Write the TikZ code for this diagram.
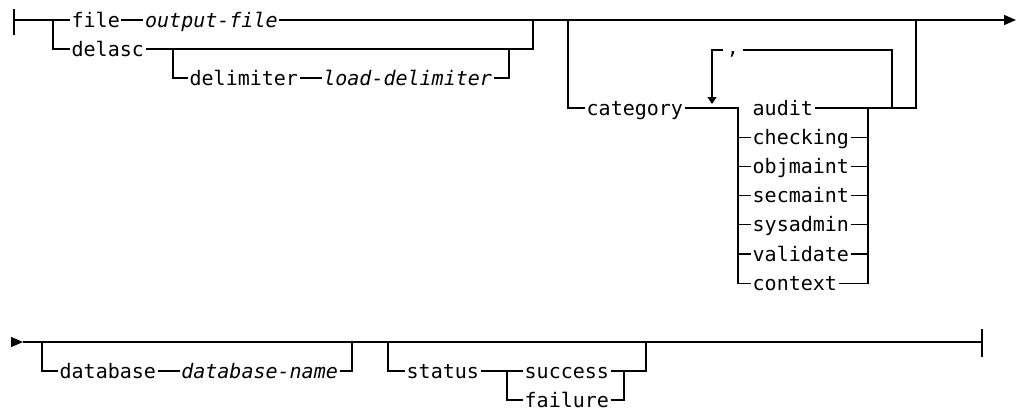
\documentclass[tikz,border=0pt]{standalone}
\usepackage{fontspec}
\newfontfamily\railfont{DejaVu Sans Mono}
\usepackage{tikz}
\usetikzlibrary{arrows.meta,positioning}

\begin{document}
\begin{tikzpicture}[x=0.75pt,y=-0.75pt,line width=1pt,
  kw/.style={font=\railfont\fontsize{15}{18}\selectfont,inner xsep=0.75pt,inner ysep=0pt,
             text height=13.5pt,text depth=3pt,anchor=west},
  var/.style={kw,font=\railfont\itshape\fontsize{15}{18}\selectfont},
  tip/.style={-{Triangle[length=9pt,width=7.5pt]}}]
\useasboundingbox (0,0) rectangle (1020,411);
%\draw[help lines] (0,0) grid[step=50] (1020,411);

% first line
\coordinate (START) at (14,20);
\coordinate (J1) at (53,20);
\coordinate (J2) at (533,20);
\coordinate (J3) at (568,20);
\coordinate (J4) at (916,20);
\coordinate (END1) at (1016,20);
\coordinate (J5) at (173,49);
\coordinate (J6) at (509,49);
\coordinate (J7) at (738,108);
\coordinate (J8) at (868,108);
\coordinate (LOOPL) at (712,104);
\coordinate (LOOPR) at (892,108);

\node[kw] (FILE) at (70,20) {file};
\node[var] (OUTFILE) [right=16.5pt of FILE] {output-file};
\node[kw] (DELASC) at (70,49) {delasc};
\node[kw] (DELIM) at (188,78) {delimiter};
\node[var] (LOADDELIM) [right=16.5pt of DELIM] {load-delimiter};
\node[kw] (CATEGORY) at (585,108) {category};
\node[kw,anchor=center,inner xsep=2.5pt,text height=10.5pt,text depth=3.75pt] (COMMA) at (733,50) {,};
\foreach \w [count=\i from 0] in {audit,checking,objmaint,secmaint,sysadmin,validate,context}
  \node[kw] (C\i) at (751,108+29.2*\i) {\w};

\draw (START) ++(0,-11) -- ++(0,26);
\draw (START) -- (J1) -- (FILE.west);
\draw (J1) |- (DELASC.west);
\draw (FILE) -- (OUTFILE);
\draw[tip] (OUTFILE.east) -- (END1);
\draw (DELASC.east) -| (J2);
\draw (J5) |- (DELIM.west);
\draw (DELIM) -- (LOADDELIM);
\draw (LOADDELIM.east) -| (J6);
\draw (J3) |- (CATEGORY.west);
\draw (CATEGORY.east) -- (J7) |- (C6.west);
\draw (C0.east) -| (J4);
\draw (C6.east) -| (J8);
\foreach \i in {1,...,5} {
  \draw (C\i.west -| J7) -- (C\i.west);
  \draw (C\i.east) -- (C\i.east -| J8);
}
\draw (LOOPR) |- (COMMA.east);
\draw[-{Triangle[length=5.25pt,width=6.75pt]}] (COMMA.west) -| (LOOPL);

% second line
\coordinate (START2) at (11,342);
\coordinate (TIP2) at (23,342);
\coordinate (J10) at (42,342);
\coordinate (J11) at (352,342);
\coordinate (J12) at (388,342);
\coordinate (J13) at (646,342);
\coordinate (J14) at (507,371);
\coordinate (J15) at (624,371);
\coordinate (END2) at (982,342);

\node[kw] (DATABASE) at (58,371) {database};
\node[var] (DBNAME) [right=16.5pt of DATABASE] {database-name};
\node[kw] (STATUS) at (405,371) {status};
\node[kw] (SUCCESS) at (523,371) {success};
\node[kw] (FAILURE) at (523,400) {failure};

\draw[tip] (START2) -- (TIP2);
\draw (TIP2) -- (END2);
\draw (END2) ++(0,-13) -- ++(0,28);
\draw (J10) |- (DATABASE.west);
\draw (DATABASE) -- (DBNAME);
\draw (DBNAME.east) -| (J11);
\draw (J12) |- (STATUS.west);
\draw (STATUS.east) -- (J14) |- (FAILURE.west);
\draw (J14) -- (SUCCESS.west);
\draw (SUCCESS.east) -| (J13);
\draw (FAILURE.east) -| (J15);
\end{tikzpicture}
\end{document}
